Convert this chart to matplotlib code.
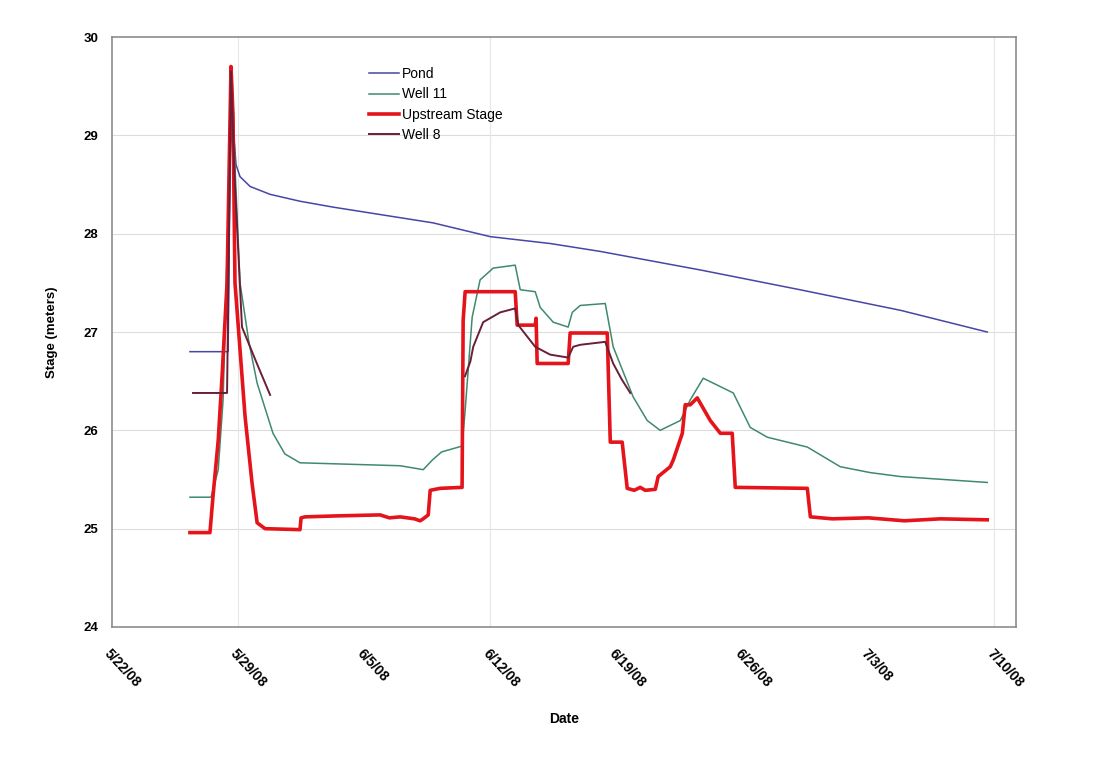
import datetime as dt
import matplotlib
matplotlib.use('Agg')
import matplotlib.pyplot as plt

plt.rcParams['font.family'] = ['Liberation Sans', 'DejaVu Sans']

start = dt.datetime(2008, 5, 22)

# days after 5/22/08 and stage values (meters)
pond_days = [4.33, 6.45, 6.61, 6.72, 6.89, 7.11, 7.67, 8.78, 10.44, 12.28, 17.83, 21.0, 24.33, 27.1,
             32.7, 38.2, 43.8, 48.6]
pond_vals = [26.80, 26.80, 29.70, 29.10, 28.70, 28.58, 28.48, 28.40, 28.33, 28.27, 28.11, 27.97, 27.90, 27.82,
             27.63, 27.43, 27.22, 27.00]

well11_days = [4.33, 5.5, 5.9, 6.17, 6.45, 6.67, 6.85, 7.11, 7.6, 8.06, 8.94, 9.6, 10.44, 12.28, 16.0, 17.28,
               17.8, 18.3, 19.44, 19.61, 20.0, 20.44, 21.17, 22.39, 22.67, 23.5, 23.78, 24.5, 25.33,
               25.56, 26.0, 27.39, 27.83, 28.94, 29.72, 30.44, 31.56, 32.11, 32.83, 34.5, 35.44, 36.39,
               38.61, 40.44, 42.11, 43.78, 48.6]
well11_vals = [25.32, 25.32, 25.6, 26.31, 28.2, 29.6, 28.6, 27.50, 26.90, 26.48, 25.97, 25.76, 25.67, 25.66,
               25.64, 25.60, 25.70, 25.78, 25.84, 26.20, 27.15, 27.53, 27.65, 27.68, 27.43, 27.41, 27.25,
               27.10, 27.05, 27.20, 27.27, 27.29, 26.85, 26.34, 26.10, 26.00, 26.10, 26.31, 26.53, 26.38,
               26.03, 25.93, 25.83, 25.63, 25.57, 25.53, 25.47]

up_days = [4.33, 5.44, 5.61, 5.9, 6.11, 6.39, 6.61, 6.72, 6.83, 7.39, 7.78, 8.06, 8.5, 10.44, 10.5, 10.72,
           12.5, 14.89, 15.4, 16.0, 16.8, 17.11, 17.28, 17.56, 17.67, 18.22, 19.44, 19.5, 19.61,
           22.39, 22.5, 23.5, 23.55, 23.61, 25.33, 25.44, 27.5, 27.67, 28.33, 28.61, 29.0, 29.33,
           29.61, 30.17, 30.33, 31.0, 31.17, 31.67, 31.83, 32.11, 32.5, 33.22, 33.78, 34.44, 34.61,
           38.61, 38.78, 40.0, 42.0, 44.0, 46.0, 48.6]
up_vals = [24.96, 24.96, 25.33, 25.90, 26.54, 27.50, 29.70, 29.20, 27.50, 26.14, 25.46, 25.06, 25.00, 24.99,
           25.11, 25.12, 25.13, 25.14, 25.11, 25.12, 25.10, 25.08, 25.10, 25.14, 25.39, 25.41, 25.42,
           27.12, 27.41, 27.41, 27.07, 27.07, 27.14, 26.68, 26.68, 26.99, 26.99, 25.88, 25.88, 25.41,
           25.39, 25.42, 25.39, 25.40, 25.53, 25.63, 25.70, 25.97, 26.26, 26.26, 26.33, 26.10, 25.97,
           25.97, 25.42, 25.41, 25.12, 25.10, 25.11, 25.08, 25.10, 25.09]

well8a_days = [4.5, 6.39, 6.61, 6.8, 7.22, 8.0, 8.78]
well8a_vals = [26.38, 26.38, 29.65, 28.6, 27.05, 26.70, 26.36]

well8b_days = [19.6, 19.9, 20.06, 20.61, 21.56, 22.39, 22.56, 23.5, 24.33, 25.33, 25.61, 26.0, 27.39, 27.83,
               28.3, 28.78]
well8b_vals = [26.55, 26.70, 26.85, 27.10, 27.20, 27.24, 27.07, 26.85, 26.77, 26.74, 26.85, 26.87, 26.90, 26.68,
               26.52, 26.38]

tick_labels = ['5/22/08', '5/29/08', '6/5/08', '6/12/08', '6/19/08', '6/26/08', '7/3/08', '7/10/08']


def to_dates(days):
    return [start + dt.timedelta(days=d) for d in days]


fig = plt.figure(figsize=(11.12, 7.65), dpi=100)
ax = fig.add_axes([0.1007, 0.1804, 0.813, 0.7712])

ax.plot(to_dates(pond_days), pond_vals, color='#4646a6', lw=1.1, label='Pond', zorder=3)
ax.plot(to_dates(well11_days), well11_vals, color='#3f8a6c', lw=1.1, label='Well 11', zorder=3)
ax.plot(to_dates(up_days), up_vals, color='#e5141b', lw=2.6, label='Upstream Stage', zorder=4)
ax.plot(to_dates(well8a_days), well8a_vals, color='#6a1f36', lw=1.4, label='Well 8', zorder=5)
ax.plot(to_dates(well8b_days), well8b_vals, color='#6a1f36', lw=1.4, zorder=5)

ticks = [start + dt.timedelta(days=7 * i) for i in range(len(tick_labels))]
ax.set_xticks(ticks)
ax.set_xticklabels(tick_labels, rotation=-47, ha='left', va='top', rotation_mode='anchor',
                   fontsize=10, fontweight='bold')
ax.set_xlim(start, start + dt.timedelta(days=50.2))
ax.set_ylim(24, 30)
ax.set_yticks([24, 25, 26, 27, 28, 29, 30])
ax.set_yticklabels(['24', '25', '26', '27', '28', '29', '30'], fontsize=9.5, fontweight='bold')
ax.tick_params(axis='y', length=0, pad=10)
ax.tick_params(axis='x', length=0, pad=14)

for yv in [25, 26, 27, 28, 29]:
    ax.axhline(yv, color='#dcdcdc', lw=0.8, zorder=1)
for xi in [1, 3, 7]:
    ax.axvline(ticks[xi], color='#e6e6e6', lw=0.8, zorder=1)

for sp in ax.spines.values():
    sp.set_color('#8c8c8c')
    sp.set_linewidth(1.2)

ax.set_ylabel('Stage (meters)', fontsize=9.5, fontweight='bold', labelpad=18)
ax.set_xlabel('Date', fontsize=10, fontweight='bold', labelpad=16)

leg = ax.legend(loc='upper left', bbox_to_anchor=(0.27, 0.97), frameon=False, fontsize=10,
                handlelength=2.2, handletextpad=0.2, labelspacing=0.45)

fig.savefig('out.png', dpi=100)
